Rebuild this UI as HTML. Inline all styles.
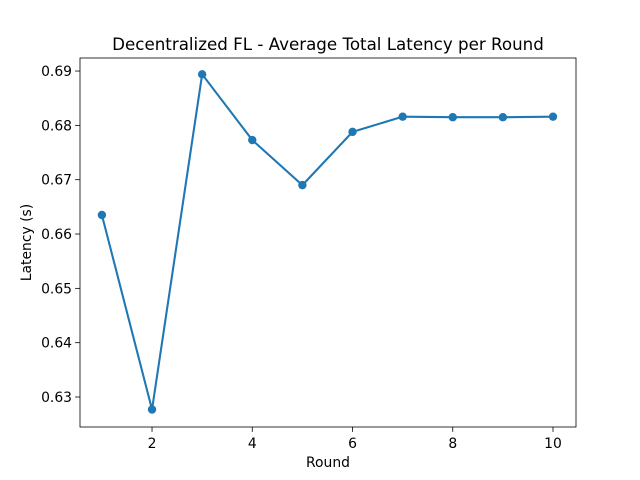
<!DOCTYPE html>
<html><head><meta charset="utf-8"><style>
body{margin:0;background:#fff;}
svg{display:block;font-family:"DejaVu Sans","Liberation Sans",sans-serif;}
</style></head><body>
<svg id="chart" width="640" height="480">
<rect x="0" y="0" width="640" height="480" fill="#fff"/>
<text x="328" y="50" text-anchor="middle" font-size="16.7">Decentralized FL - Average Total Latency per Round</text>
<g id="axes"></g>
<text x="328" y="467" text-anchor="middle" font-size="13.9">Round</text>
<text transform="translate(31,242.5) rotate(-90)" text-anchor="middle" font-size="13.9">Latency (s)</text>
</svg>
<script>
const rounds=[1,2,3,4,5,6,7,8,9,10];
const latency=[0.6635,0.6277,0.6894,0.6773,0.6690,0.6788,0.6816,0.6815,0.6815,0.6816];
const xTicks=[2,4,6,8,10];
const yTicks=[0.63,0.64,0.65,0.66,0.67,0.68,0.69];
const L=80,R=576,T=58,B=427;
const xMin=0.563,xMax=10.459,yMin=0.62448,yMax=0.6924;
const sx=v=>L+(v-xMin)/(xMax-xMin)*(R-L);
const sy=v=>B-(v-yMin)/(yMax-yMin)*(B-T);
const ns="http://www.w3.org/2000/svg";
const g=document.getElementById('axes');
function mk(t,a){const e=document.createElementNS(ns,t);for(const k in a)e.setAttribute(k,a[k]);g.appendChild(e);return e;}
xTicks.forEach(v=>{const x=sx(v);
const t=mk('line',{x1:x,x2:x,y1:B,y2:B+4.9,stroke:'#000','stroke-width':0.8});


const l=mk('text',{x:x,y:B+21,'text-anchor':'middle','font-size':13.9});l.textContent=v;

});
yTicks.forEach(v=>{const y=sy(v);
const t=mk('line',{x1:L-4.9,x2:L,y1:y,y2:y,stroke:'#000','stroke-width':0.8});


const l=mk('text',{x:L-8,y:y+5,'text-anchor':'end','font-size':13.9});l.textContent=v.toFixed(2);

});
const pl=mk('polyline',{points:rounds.map((r,i)=>sx(r)+','+sy(latency[i])).join(' '),fill:'none',stroke:'#1f77b4','stroke-width':2.08});


rounds.forEach((r,i)=>{const c=mk('circle',{cx:sx(r),cy:sy(latency[i]),r:4.2,fill:'#1f77b4'});

});
const f=mk('rect',{x:L,y:T,width:R-L,height:B-T,fill:'none',stroke:'#000','stroke-width':0.8});


</script>
</body></html>
